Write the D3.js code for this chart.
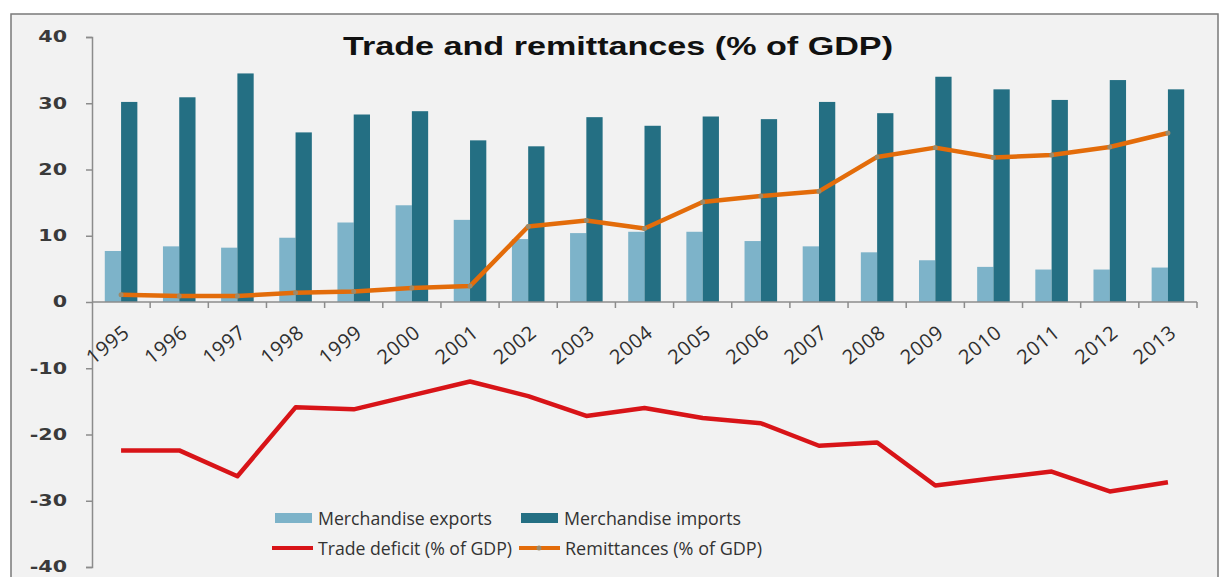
<!DOCTYPE html>
<html>
<head>
<meta charset="utf-8">
<script src="https://cdn.jsdelivr.net/npm/d3@7"></script>
<style>
  html, body { margin: 0; padding: 0; background: #ffffff; }
  svg { display: block; }
</style>
</head>
<body>
<svg id="chart" width="1221" height="577"></svg>
<script>
// Trade and remittances as a share of GDP, 1995–2013
const years = ["1995","1996","1997","1998","1999","2000","2001","2002","2003","2004",
               "2005","2006","2007","2008","2009","2010","2011","2012","2013"];
const exportsPct = [7.7, 8.4, 8.2, 9.7, 12.0, 14.6, 12.4, 9.5, 10.4, 10.6,
                    10.6, 9.2, 8.4, 7.5, 6.3, 5.3, 4.9, 4.9, 5.2];
const importsPct = [30.2, 30.9, 34.5, 25.6, 28.3, 28.8, 24.4, 23.5, 27.9, 26.6,
                    28.0, 27.6, 30.2, 28.5, 34.0, 32.1, 30.5, 33.5, 32.1];
const tradeDeficitPct = [-22.4, -22.4, -26.3, -15.9, -16.2, -14.1, -12.0, -14.2, -17.2, -16.0,
                         -17.5, -18.3, -21.7, -21.2, -27.7, -26.6, -25.6, -28.6, -27.2];
const remittancesPct = [1.1, 0.9, 0.9, 1.4, 1.6, 2.1, 2.4, 11.4, 12.3, 11.1,
                        15.1, 16.0, 16.7, 21.9, 23.3, 21.8, 22.2, 23.4, 25.5];
const yTicks = [40, 30, 20, 10, 0, -10, -20, -30, -40];

const colors = {
  exports: "#7db3c9",
  imports: "#246f83",
  deficit: "#d81418",
  remit: "#e36c0a",
  marker: "#9c8a6a",
  axis: "#8c8c8c",
  text: "#333333"
};

const svg = d3.select("#chart");

// panel background and frame
svg.append("rect")
  .attr("x", 11).attr("y", 14)
  .attr("width", 1207).attr("height", 570)
  .attr("fill", "#f2f2f2")
  .attr("stroke", "#7a7a7a").attr("stroke-width", 1.5);

const x = d3.scaleBand().domain(years).range([92, 1197])
  .paddingInner(0.44).paddingOuter(0.22);
const xSub = d3.scaleBand().domain(["exports", "imports"]).range([0, x.bandwidth()]);
const y = d3.scaleLinear().domain([-40, 40]).range([567, 37]);
const cx = d => x(d) + x.bandwidth() / 2;

// y axis (wide bold numerals, plain hyphen for negatives)
const yAxis = svg.append("g").attr("transform", "translate(92,0)")
  .call(d3.axisLeft(y).tickValues(yTicks).tickSize(6).tickFormat(d => String(d)));
yAxis.select(".domain").attr("stroke", colors.axis).attr("stroke-width", 1.5);
yAxis.selectAll(".tick line").attr("stroke", colors.axis).attr("stroke-width", 1.5);
yAxis.selectAll(".tick text")
  .attr("x", -18)
  .attr("transform", "scale(1.38,1)")
  .attr("fill", "#3a3a3a")
  .style("font-family", "'DejaVu Sans', sans-serif")
  .style("font-weight", "bold")
  .style("font-size", "15px");

// bars
const barData = years.map((yr, i) => ({ year: yr, exports: exportsPct[i], imports: importsPct[i] }));
const groups = svg.append("g").selectAll("g").data(barData).join("g")
  .attr("transform", d => `translate(${x(d.year)},0)`);
groups.selectAll("rect")
  .data(d => ["exports", "imports"].map(k => ({ key: k, value: d[k] })))
  .join("rect")
  .attr("x", d => xSub(d.key))
  .attr("width", xSub.bandwidth())
  .attr("y", d => y(d.value))
  .attr("height", d => y(0) - y(d.value))
  .attr("fill", d => colors[d.key]);

// x axis at zero with ticks on category boundaries
svg.append("line")
  .attr("x1", 92).attr("x2", 1197)
  .attr("y1", y(0)).attr("y2", y(0))
  .attr("stroke", colors.axis).attr("stroke-width", 1.5);
const step = x.step();
svg.append("g").selectAll("line").data(years).join("line")
  .attr("x1", (d, i) => x.range()[0] + step * (i + 1))
  .attr("x2", (d, i) => x.range()[0] + step * (i + 1))
  .attr("y1", y(0)).attr("y2", y(0) + 6)
  .attr("stroke", colors.axis).attr("stroke-width", 1.5);

// year labels
svg.append("g").selectAll("text").data(years).join("text")
  .attr("transform", d => `translate(${cx(d) + 5},${y(0) + 27}) rotate(-39)`)
  .attr("text-anchor", "end")
  .attr("dominant-baseline", "central")
  .attr("fill", "#2e2e2e")
  .style("font-family", "'Open Sans', sans-serif")
  .style("font-size", "20px")
  .style("letter-spacing", "0.6px")
  .text(d => d);

// trade deficit line
const lineGen = d3.line().x(d => cx(d.year)).y(d => y(d.value));
svg.append("path")
  .datum(years.map((yr, i) => ({ year: yr, value: tradeDeficitPct[i] })))
  .attr("d", lineGen)
  .attr("fill", "none")
  .attr("stroke", colors.deficit)
  .attr("stroke-width", 4.5)
  .attr("stroke-linejoin", "round");

// remittances line with markers
const remitData = years.map((yr, i) => ({ year: yr, value: remittancesPct[i] }));
svg.append("path")
  .datum(remitData)
  .attr("d", lineGen)
  .attr("fill", "none")
  .attr("stroke", colors.remit)
  .attr("stroke-width", 4.5)
  .attr("stroke-linejoin", "round");
svg.append("g").selectAll("circle").data(remitData).join("circle")
  .attr("cx", d => cx(d.year))
  .attr("cy", d => y(d.value))
  .attr("r", 2.5)
  .attr("fill", colors.marker);

// title
svg.append("text")
  .attr("x", 618).attr("y", 55)
  .attr("text-anchor", "middle")
  .attr("fill", "#111111")
  .attr("textLength", 550)
  .attr("lengthAdjust", "spacingAndGlyphs")
  .style("font-family", "'Liberation Sans', Arial, sans-serif")
  .style("font-weight", "bold")
  .style("font-size", "25px")
  .text("Trade and remittances (% of GDP)");

// legend
const legend = svg.append("g")
  .style("font-family", "'Open Sans', sans-serif")
  .style("font-size", "18px")
  .attr("fill", colors.text);
const legendItems = [
  { label: "Merchandise exports", type: "rect", color: colors.exports, x: 275, y: 518, len: 174 },
  { label: "Merchandise imports", type: "rect", color: colors.imports, x: 521, y: 518, len: 177 },
  { label: "Trade deficit (% of GDP)", type: "line", color: colors.deficit, x: 272, y: 548, len: 194 },
  { label: "Remittances (% of GDP)", type: "marker", color: colors.remit, x: 519, y: 548, len: 197 }
];
legendItems.forEach(it => {
  if (it.type === "rect") {
    legend.append("rect").attr("x", it.x).attr("y", it.y - 5)
      .attr("width", 37).attr("height", 10).attr("fill", it.color);
  } else {
    legend.append("line").attr("x1", it.x).attr("x2", it.x + 41)
      .attr("y1", it.y).attr("y2", it.y)
      .attr("stroke", it.color).attr("stroke-width", 4);
    if (it.type === "marker") {
      legend.append("circle").attr("cx", it.x + 20).attr("cy", it.y)
        .attr("r", 2.5).attr("fill", colors.marker);
    }
  }
  legend.append("text")
    .attr("x", it.x + (it.type === "rect" ? 43 : 46))
    .attr("y", it.y + 7)
    .attr("textLength", it.len)
    .attr("lengthAdjust", "spacingAndGlyphs")
    .text(it.label);
});
</script>
</body>
</html>
